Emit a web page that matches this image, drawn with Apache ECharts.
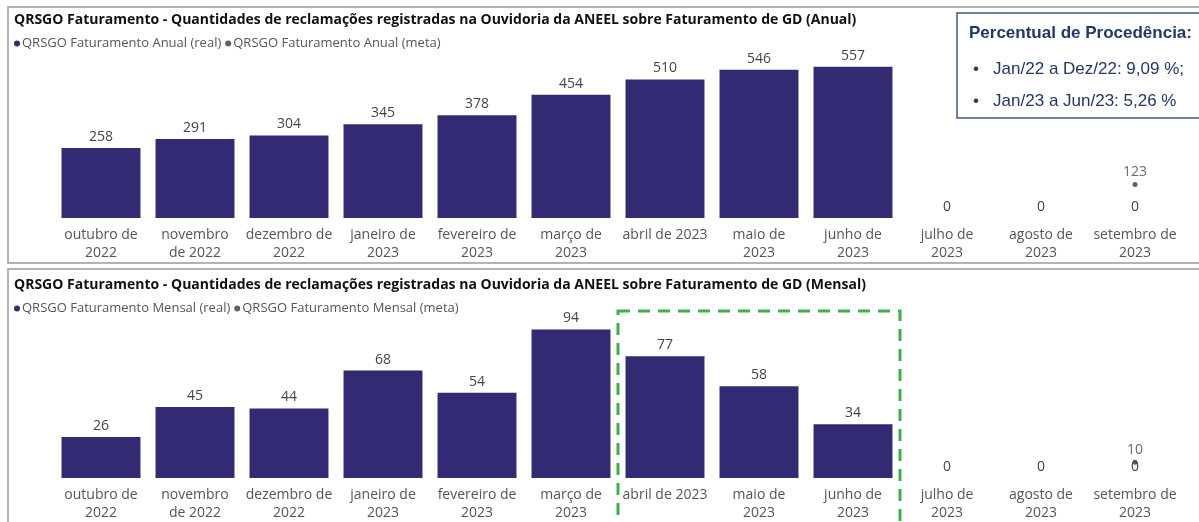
<!DOCTYPE html>
<html>
<head>
<meta charset="utf-8">
<script src="https://cdn.jsdelivr.net/npm/echarts@6/dist/echarts.min.js"></script>
<style>
  html, body { margin: 0; padding: 0; background: #fff; }
  #main { width: 1199px; height: 522px; }
</style>
</head>
<body>
<div id="main"></div>
<script>
// rótulos do eixo (meses)
var categories = [
    'outubro de\n2022', 'novembro\nde 2022', 'dezembro de\n2022', 'janeiro de\n2023',
    'fevereiro de\n2023', 'março de\n2023', 'abril de 2023', 'maio de\n2023',
    'junho de\n2023', 'julho de\n2023', 'agosto de\n2023', 'setembro de\n2023'
];

// anual
var anualReal = [258, 291, 304, 345, 378, 454, 510, 546, 557, 0, 0, 0];
var anualMeta = [null, null, null, null, null, null, null, null, null, null, null, 123];

// mensal
var mensalReal = [26, 45, 44, 68, 54, 94, 77, 58, 34, 0, 0, 0];
var mensalMeta = [null, null, null, null, null, null, null, null, null, null, null, 10];

var titleTop = 'QRSGO Faturamento - Quantidades de reclamações registradas na Ouvidoria da ANEEL sobre Faturamento de GD (Anual)';
var titleBottom = 'QRSGO Faturamento - Quantidades de reclamações registradas na Ouvidoria da ANEEL sobre Faturamento de GD (Mensal)';

var boxLines = ['Jan/22 a Dez/22: 9,09 %;', 'Jan/23 a Jun/23: 5,26 %'];

var font = '"Open Sans", sans-serif';
var barColor = '#322b74';
var metaColor = '#3a3a3a';

function axisX(idx) {
    return {
        type: 'category',
        gridIndex: idx,
        data: categories,
        axisLine: { show: false },
        axisTick: { show: false },
        axisLabel: {
            color: '#555',
            fontFamily: font,
            fontSize: 14,
            lineHeight: 18,
            margin: 8,
            interval: 0
        }
    };
}

function axisY(idx, max) {
    return {
        type: 'value',
        gridIndex: idx,
        min: 0,
        max: max,
        show: false,
        splitLine: { show: false }
    };
}

var barLabel = {
    show: true,
    position: 'top',
    distance: 4,
    color: '#444',
    fontFamily: font,
    fontSize: 14
};

var metaLabel = { show: true, position: 'top', distance: 3, color: '#444', fontFamily: font, fontSize: 14 };

var legendText = { fontFamily: font, fontSize: 13, color: '#555', padding: [0, 0, 0, -3] };
var titleText = { fontFamily: font, fontSize: 14, fontWeight: 'bold', color: '#111' };

var option = {
    animation: false,
    title: [
        { text: titleTop, left: 9, top: 8, textStyle: titleText },
        { text: titleBottom, left: 9, top: 273, textStyle: titleText }
    ],
    legend: [
        { left: 9, top: 32, icon: 'circle', itemWidth: 6, itemHeight: 6, itemGap: 4,
          textStyle: legendText,
          data: ['QRSGO Faturamento Anual (real)', 'QRSGO Faturamento Anual (meta)'] },
        { left: 9, top: 297, icon: 'circle', itemWidth: 6, itemHeight: 6, itemGap: 4,
          textStyle: legendText,
          data: ['QRSGO Faturamento Mensal (real)', 'QRSGO Faturamento Mensal (meta)'] }
    ],
    grid: [
        { left: 54, width: 1128, top: 55, height: 163 },
        { left: 54, width: 1128, top: 320, height: 167 }
    ],
    xAxis: [axisX(0), axisX(1)],
    yAxis: [axisY(0, 600), axisY(1, 100)],
    series: [
        { name: 'QRSGO Faturamento Anual (real)', type: 'bar', xAxisIndex: 0, yAxisIndex: 0,
          data: anualReal, barCategoryGap: '16%', itemStyle: { color: barColor }, label: barLabel },
        { name: 'QRSGO Faturamento Anual (meta)', type: 'scatter', xAxisIndex: 0, yAxisIndex: 0,
          data: anualMeta, symbolSize: 5, itemStyle: { color: metaColor }, label: metaLabel },
        { name: 'QRSGO Faturamento Mensal (real)', type: 'bar', xAxisIndex: 1, yAxisIndex: 1,
          data: mensalReal, barCategoryGap: '16%', itemStyle: { color: barColor }, label: barLabel },
        { name: 'QRSGO Faturamento Mensal (meta)', type: 'scatter', xAxisIndex: 1, yAxisIndex: 1,
          data: mensalMeta, symbolSize: 5, itemStyle: { color: metaColor }, label: metaLabel }
    ]
};

var chart = echarts.init(document.getElementById('main'));
chart.setOption(option);

// caixa tracejada de abril a junho (bordas das categorias)
var x6 = chart.convertToPixel({ xAxisIndex: 1 }, categories[6]);
var x8 = chart.convertToPixel({ xAxisIndex: 1 }, categories[8]);
var band = (x8 - x6) / 2;

var boxColor = '#1f3864';
chart.setOption({
    graphic: [
        // molduras dos painéis
        { type: 'rect', shape: { x: 8, y: 7, width: 1200, height: 256 }, z: -1,
          style: { fill: null, stroke: '#9a9a9a', lineWidth: 1.5 } },
        { type: 'rect', shape: { x: 8, y: 269, width: 1200, height: 270 }, z: -1,
          style: { fill: null, stroke: '#9a9a9a', lineWidth: 1.5 } },
        // caixa de procedência
        { type: 'rect', shape: { x: 957, y: 13, width: 250, height: 105 },
          style: { fill: '#fff', stroke: '#3d5a80', lineWidth: 1.5 } },
        { type: 'text', x: 969, y: 25,
          style: { text: 'Percentual de Procedência:', fill: boxColor,
                   font: 'bold 17px "Liberation Sans", Arial, sans-serif' } },
        { type: 'text', x: 973, y: 61,
          style: { text: '•   ' + boxLines[0], fill: boxColor,
                   font: '17px "Liberation Sans", Arial, sans-serif' } },
        { type: 'text', x: 973, y: 93,
          style: { text: '•   ' + boxLines[1], fill: boxColor,
                   font: '17px "Liberation Sans", Arial, sans-serif' } },
        // destaque tracejado
        { type: 'rect', shape: { x: x6 - band / 2, y: 311, width: band * 3, height: 230 },
          style: { fill: null, stroke: '#3cb04a', lineWidth: 3, lineDash: [12, 8] } }
    ]
});
</script>
</body>
</html>
